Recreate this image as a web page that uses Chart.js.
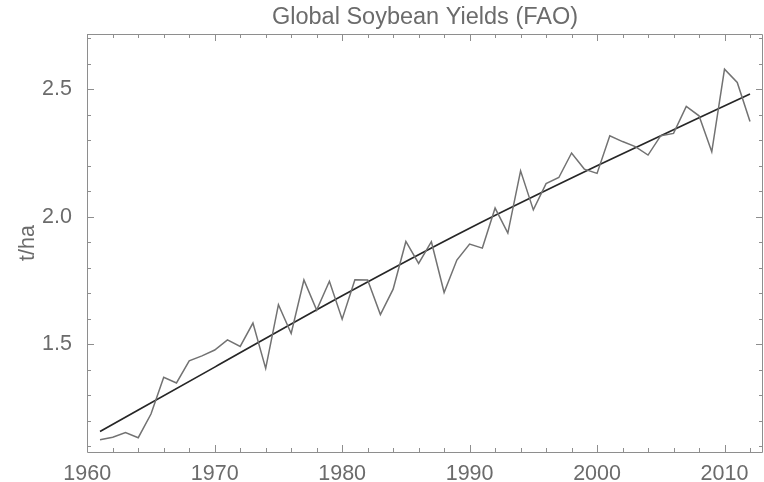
<!DOCTYPE html>
<html>
<head>
<meta charset="utf-8">
<title>Global Soybean Yields (FAO)</title>
<script src="https://cdn.jsdelivr.net/npm/chart.js@4.4.0/dist/chart.umd.min.js"></script>
<style>
  html, body { margin: 0; padding: 0; background: #ffffff; }
  #c { display: block; }
</style>
</head>
<body>
<canvas id="c" width="764" height="482"></canvas>
<script>
// Annual global soybean yield, t/ha
const years = [
  1961, 1962, 1963, 1964, 1965, 1966, 1967, 1968, 1969, 1970,
  1971, 1972, 1973, 1974, 1975, 1976, 1977, 1978, 1979, 1980,
  1981, 1982, 1983, 1984, 1985, 1986, 1987, 1988, 1989, 1990,
  1991, 1992, 1993, 1994, 1995, 1996, 1997, 1998, 1999, 2000,
  2001, 2002, 2003, 2004, 2005, 2006, 2007, 2008, 2009, 2010,
  2011, 2012
];
const yields = [
  1.125, 1.135, 1.153, 1.133, 1.226, 1.370, 1.348, 1.435, 1.454, 1.477,
  1.517, 1.491, 1.583, 1.405, 1.655, 1.542, 1.752, 1.634, 1.747, 1.598,
  1.753, 1.752, 1.616, 1.716, 1.903, 1.817, 1.902, 1.703, 1.830, 1.893,
  1.877, 2.034, 1.936, 2.180, 2.027, 2.130, 2.154, 2.250, 2.187, 2.170,
  2.318, 2.295, 2.275, 2.242, 2.318, 2.327, 2.433, 2.396, 2.255, 2.579,
  2.527, 2.374
];

// Fitted trend curve
const trendYears  = [1961, 1970, 1980, 1990, 2000, 2012];
const trendValues = [1.157, 1.410, 1.690, 1.955, 2.200, 2.482];

// Labelled ticks
const xTickLabels = [1960, 1970, 1980, 1990, 2000, 2010];
const yTickLabels = [1.5, 2.0, 2.5];

const toPoints = (xs, ys) => xs.map((x, i) => ({ x: x, y: ys[i] }));

const labelColor = '#6b6b6b';
const frameColor = '#8e8e8e';
const fontFamily = '"Liberation Sans", Arial, sans-serif';

// Frame with inward-pointing major and minor ticks on all four sides
const frameTicks = {
  id: 'frameTicks',
  afterDraw(chart) {
    const { ctx, chartArea: a, scales } = chart;
    const xs = scales.x, ys = scales.y;
    ctx.save();
    ctx.strokeStyle = frameColor;
    ctx.lineWidth = 1;
    ctx.beginPath();
    ctx.rect(Math.round(a.left) + 0.5, Math.round(a.top) + 0.5,
             Math.round(a.right - a.left) - 1, Math.round(a.bottom - a.top));
    ctx.stroke();

    ctx.beginPath();
    for (let v = 1960; v <= 2012; v += 2) {
      const px = Math.round(xs.getPixelForValue(v)) + 0.5;
      const len = v % 10 === 0 ? 7 : 4;
      ctx.moveTo(px, a.bottom); ctx.lineTo(px, a.bottom - len);
      ctx.moveTo(px, a.top);    ctx.lineTo(px, a.top + len);
    }
    for (let k = 11; k <= 27; k++) {
      const v = k / 10;
      const py = Math.round(ys.getPixelForValue(v)) + 0.5;
      const len = k % 5 === 0 ? 7 : 4;
      ctx.moveTo(a.left, py);  ctx.lineTo(a.left + len, py);
      ctx.moveTo(a.right, py); ctx.lineTo(a.right - len, py);
    }
    ctx.stroke();
    ctx.restore();
  }
};

new Chart(document.getElementById('c'), {
  type: 'line',
  data: {
    datasets: [
      {
        label: 'Yield',
        data: toPoints(years, yields),
        borderColor: '#727272',
        borderWidth: 1.5,
        pointRadius: 0,
        tension: 0,
        fill: false
      },
      {
        label: 'Trend',
        data: toPoints(trendYears, trendValues),
        borderColor: '#262626',
        borderWidth: 1.7,
        pointRadius: 0,
        tension: 0.4,
        cubicInterpolationMode: 'monotone',
        fill: false
      }
    ]
  },
  options: {
    responsive: false,
    animation: false,
    devicePixelRatio: 1,
    layout: { padding: { left: 0, right: 1, top: 0, bottom: 0 } },
    plugins: {
      legend: { display: false },
      tooltip: { enabled: false },
      title: {
        display: true,
        text: 'Global Soybean Yields (FAO)',
        fullSize: false,
        color: labelColor,
        font: { family: fontFamily, size: 23.5, weight: 'normal', lineHeight: 1.2 },
        padding: { top: 3, bottom: 2.8 }
      }
    },
    scales: {
      x: {
        type: 'linear',
        min: 1959.98,
        max: 2013.02,
        grid: { display: false },
        border: { display: false },
        afterBuildTicks: s => { s.ticks = xTickLabels.map(v => ({ value: v })); },
        afterFit: s => { s.height = 30; },
        ticks: {
          color: labelColor,
          padding: 1,
          maxRotation: 0,
          autoSkip: false,
          font: { family: fontFamily, size: 21.5 },
          callback: v => String(v)
        }
      },
      y: {
        type: 'linear',
        min: 1.077,
        max: 2.717,
        grid: { display: false },
        border: { display: false },
        afterBuildTicks: s => { s.ticks = yTickLabels.map(v => ({ value: v })); },
        afterFit: s => { s.width = 87; },
        title: {
          display: true,
          text: 't/ha',
          color: labelColor,
          font: { family: fontFamily, size: 21.5 },
          padding: { top: 15, bottom: 0 }
        },
        ticks: {
          color: labelColor,
          padding: 7,
          autoSkip: false,
          font: { family: fontFamily, size: 21.5 },
          callback: v => Number(v).toFixed(1)
        }
      }
    }
  },
  plugins: [frameTicks]
});
</script>
</body>
</html>
